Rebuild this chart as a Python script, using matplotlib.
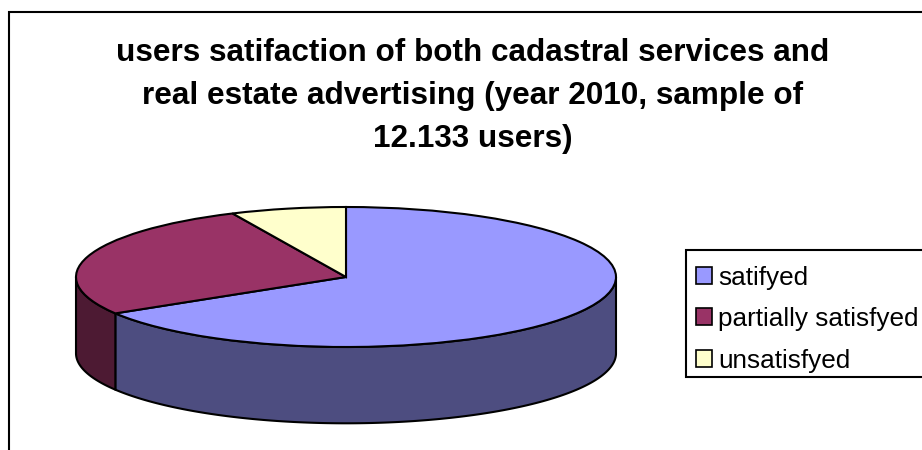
import numpy as np
import matplotlib
matplotlib.use('Agg')
import matplotlib.pyplot as plt
from matplotlib.patches import Rectangle

# (percent)
labels = ['satifyed', 'partially satisfyed', 'unsatisfyed']
values = [66.3, 26.8, 6.9]
top_colors = ['#9999FF', '#993366', '#FFFFCC']
side_colors = ['#4D4D80', '#4D1A33', '#808066']

title = ('users satifaction of both cadastral services and\n'
         'real estate advertising (year 2010, sample of\n'
         '12.133 users)')

W, H = 922, 450
plt.rcParams['font.family'] = ['Liberation Sans', 'DejaVu Sans']


def px_axes(fig, left, top, right, bottom):
    return fig.add_axes([left / W, 1 - bottom / H, (right - left) / W, (bottom - top) / H])


fig = plt.figure(figsize=(W / 100, H / 100), dpi=100, facecolor='white')

# chart frame runs off the right and bottom of the image
fig.add_artist(Rectangle((9 / W, -0.1), 1.1, 1 - 12 / H + 0.1, transform=fig.transFigure,
                         facecolor='none', edgecolor='black', linewidth=1.5))

fig.text(473 / W, 1 - 96 / H, title, ha='center', va='center', fontsize=22.7,
         fontweight='bold', linespacing=1.55, color='black')

ax = px_axes(fig, 76, 207, 616, 347)
depth = 1.09  # wall height in axes units (vertical radius is 1)

# walls first, only the front half (sin < 0) is visible
edges = 90 - 3.6 * np.concatenate([[0], np.cumsum(values)])
for i in range(len(values)):
    a0, a1 = edges[i + 1], edges[i]
    front = np.arange(-360, 0, 0.5)
    t = front[(front >= a0) & (front <= a1) & (front >= -180)]
    if len(t) == 0:
        continue
    t = np.radians(np.concatenate([[max(a0, -180)], t, [min(a1, 0)]]))
    x = np.cos(t)
    y = np.sin(t)
    ax.fill(np.concatenate([x, x[::-1]]), np.concatenate([y, y[::-1] - depth]),
            facecolor=side_colors[i], edgecolor='black', linewidth=1.5,
            clip_on=False, joinstyle='round')

wedges, _ = ax.pie(values, colors=top_colors, startangle=90, counterclock=False, radius=1,
                   wedgeprops={'edgecolor': 'black', 'linewidth': 1.5})
for w in wedges:
    w.set_clip_on(False)
ax.set_aspect('auto')
ax.set_xlim(-1, 1)
ax.set_ylim(-1, 1)
ax.axis('off')

# legend box also runs off the right edge, text sits lower than centre
fig.add_artist(Rectangle((686 / W, 1 - 376.5 / H), 0.3, 126.5 / H, transform=fig.transFigure,
                         facecolor='white', edgecolor='black', linewidth=1.5))
leg = fig.legend(wedges, labels, loc='upper left', bbox_to_anchor=(687 / W, 1 - 256.5 / H),
                 bbox_transform=fig.transFigure, fontsize=18.8, frameon=False,
                 borderaxespad=0, borderpad=0.35,
                 handlelength=0.62, handleheight=0.62, handletextpad=0.21, labelspacing=0.67)
for h in leg.legend_handles:
    h.set_linewidth(1.2)

fig.savefig('out.png', dpi=100)
